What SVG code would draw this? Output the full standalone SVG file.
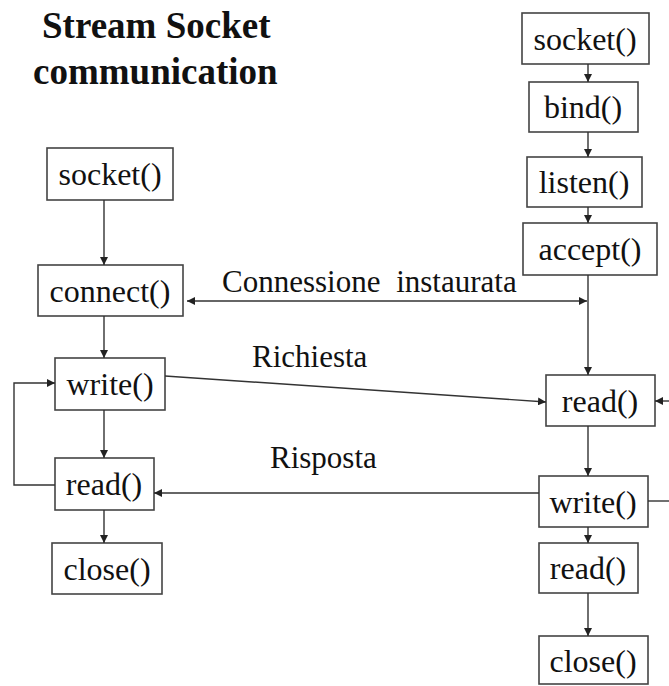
<svg xmlns="http://www.w3.org/2000/svg" width="669" height="686" viewBox="0 0 669 686">
  <style>
    .box { fill: #ffffff; stroke: #444444; stroke-width: 1.6; }
    .lbl { font-family: "Liberation Serif", "Times New Roman", serif; font-size: 32px; fill: #111111; text-anchor: middle; }
    .note { font-family: "Liberation Serif", "Times New Roman", serif; font-size: 31px; fill: #111111; }
    .title { font-family: "Liberation Serif", "Times New Roman", serif; font-size: 37px; font-weight: bold; fill: #111111; }
    .edge { fill: none; stroke: #333333; stroke-width: 1.4; }
  </style>
  <defs>
    <marker id="arrow" viewBox="0 0 10 10" refX="10" refY="5" markerWidth="8" markerHeight="8" markerUnits="userSpaceOnUse" orient="auto-start-reverse">
      <path d="M0,0 L10,5 L0,10 Z" fill="#222222"/>
    </marker>
  </defs>
  <rect width="669" height="686" fill="#ffffff"/>

  <g id="title">
    <text class="title" x="42" y="38">Stream Socket</text>
    <text class="title" x="33" y="84">communication</text>
  </g>

  <!-- client side -->
  <g id="c-socket"><rect class="box" x="47" y="148" width="126" height="52"/><text class="lbl" x="110" y="185">socket()</text></g>
  <g id="c-connect"><rect class="box" x="38" y="265" width="145" height="51"/><text class="lbl" x="110" y="302">connect()</text></g>
  <g id="c-write"><rect class="box" x="55" y="358" width="110" height="52"/><text class="lbl" x="110" y="395">write()</text></g>
  <g id="c-read"><rect class="box" x="55" y="458" width="99" height="52"/><text class="lbl" x="104" y="495">read()</text></g>
  <g id="c-close"><rect class="box" x="52" y="543" width="110" height="51"/><text class="lbl" x="107" y="580">close()</text></g>

  <!-- server side -->
  <g id="s-socket"><rect class="box" x="522" y="13" width="127" height="51"/><text class="lbl" x="585" y="50">socket()</text></g>
  <g id="s-bind"><rect class="box" x="529" y="82" width="109" height="50"/><text class="lbl" x="583" y="118">bind()</text></g>
  <g id="s-listen"><rect class="box" x="527" y="157" width="115" height="50"/><text class="lbl" x="584" y="193">listen()</text></g>
  <g id="s-accept"><rect class="box" x="523" y="223" width="134" height="52"/><text class="lbl" x="590" y="260">accept()</text></g>
  <g id="s-read"><rect class="box" x="546" y="375" width="109" height="51"/><text class="lbl" x="600" y="412">read()</text></g>
  <g id="s-write"><rect class="box" x="539" y="476" width="109" height="51"/><text class="lbl" x="593" y="513">write()</text></g>
  <g id="s-read2"><rect class="box" x="539" y="543" width="99" height="50"/><text class="lbl" x="588" y="579">read()</text></g>
  <g id="s-close"><rect class="box" x="539" y="636" width="109" height="48"/><text class="lbl" x="593" y="672">close()</text></g>

  <g id="labels">
    <text class="note" x="222" y="292" word-spacing="8">Connessione instaurata</text>
    <text class="note" x="252" y="367">Richiesta</text>
    <text class="note" x="270" y="468">Risposta</text>
  </g>

  <g id="connectors">
    <!-- client flow -->
    <line class="edge" x1="104" y1="200" x2="104" y2="265" marker-end="url(#arrow)"/>
    <line class="edge" x1="104" y1="316" x2="104" y2="358" marker-end="url(#arrow)"/>
    <line class="edge" x1="104" y1="410" x2="104" y2="458" marker-end="url(#arrow)"/>
    <line class="edge" x1="104" y1="510" x2="104" y2="543" marker-end="url(#arrow)"/>
    <polyline class="edge" points="55,485 14,485 14,383 55,383" marker-end="url(#arrow)"/>
    <!-- server flow -->
    <line class="edge" x1="588" y1="64" x2="588" y2="82" marker-end="url(#arrow)"/>
    <line class="edge" x1="588" y1="132" x2="588" y2="157" marker-end="url(#arrow)"/>
    <line class="edge" x1="588" y1="207" x2="588" y2="223" marker-end="url(#arrow)"/>
    <line class="edge" x1="588" y1="275" x2="588" y2="375" marker-end="url(#arrow)"/>
    <line class="edge" x1="588" y1="426" x2="588" y2="476" marker-end="url(#arrow)"/>
    <line class="edge" x1="588" y1="527" x2="588" y2="543" marker-end="url(#arrow)"/>
    <line class="edge" x1="588" y1="593" x2="588" y2="636" marker-end="url(#arrow)"/>
    <!-- server loop, continuing off to the right -->
    <line class="edge" x1="669" y1="401" x2="655" y2="401" marker-end="url(#arrow)"/>
    <line class="edge" x1="648" y1="501" x2="669" y2="501"/>
    <!-- exchanges between client and server -->
    <line class="edge" x1="187" y1="301" x2="587" y2="301" marker-start="url(#arrow)" marker-end="url(#arrow)"/>
    <line class="edge" x1="165" y1="376" x2="546" y2="402" marker-end="url(#arrow)"/>
    <line class="edge" x1="539" y1="493" x2="154" y2="493" marker-end="url(#arrow)"/>
  </g>
</svg>
